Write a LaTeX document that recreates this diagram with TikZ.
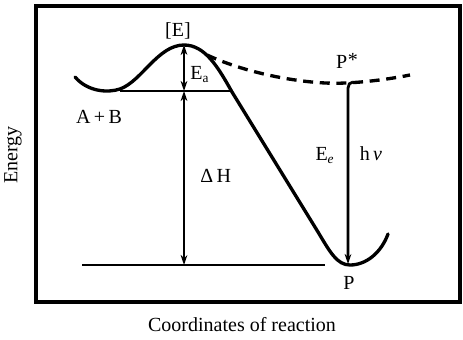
\documentclass[tikz,border=0pt]{standalone}
\usepackage{fontspec}
\setmainfont{Liberation Serif}
\usetikzlibrary{arrows.meta,positioning,calc}
\tikzset{
  frame/.style={line width=2.4pt},
  curve/.style={line width=2pt,line join=round,line cap=round},
  excited/.style={line width=2pt,dash pattern=on 6pt off 4pt},
  level/.style={line width=1.6pt},
  energy/.style={{Stealth[length=6pt,width=4pt]}-{Stealth[length=6pt,width=4pt]},line width=1.7pt},
  emit/.style={-{Stealth[length=6pt,width=4pt]},line width=1.7pt},
  lbl/.style={inner sep=1pt,font=\fontsize{12}{14}\selectfont}
}
\begin{document}
\begin{tikzpicture}[x=0.6pt,y=-0.6pt]
\useasboundingbox (0,0) rectangle (463,339);
\draw[frame] (36,6) rectangle (460,302);

% key points of the profile
\coordinate (TS) at (184,45);
\coordinate (R) at (184,91);
\coordinate (Pr) at (184,265);
\coordinate (Pstar) at (353,82);
\coordinate (Pmin) at (348,264);

% reaction profile
\draw[curve] (75,77) .. controls (88,92) and (108,93) .. (120,89)
  .. controls (142,81) and (158,45) .. (TS)
  .. controls (205,45) and (218,67) .. (232,92)
  -- (318,232)
  .. controls (330,252) and (337,265) .. (350,265)
  .. controls (366,265) and (381,253) .. (388,234);
\draw[excited] (207,55) .. controls (250,75) and (310,85) .. (345,83)
  .. controls (370,82) and (395,78) .. (410,75);

% levels
\draw[level] (120,91) -- (R) -- (231,91);
\draw[level] (82,265) -- (Pr) -- (325,265);

% energy arrows
\draw[energy] (TS) -- node[lbl,right=2pt,pos=0.64]{E\textsubscript{a}} (R);
\draw[energy] (R) -- node[lbl,right=8pt,pos=0.49]{Δ\,H} (Pr);
\draw[emit] (Pstar) to[out=180,in=90] ($(Pstar)+(-5,6)$) -- (Pmin);

% labels
\node[lbl] (E) at (178,31) {[E]};
\node[lbl] (AB) at (99,117) {A\,+\,B};
\node[lbl] (Ps) at (347,61) {P\kern0.5pt\raisebox{0.15ex}{*}};
\node[lbl] (Ee) at (325,156) {E\textsubscript{\textit{e}}};
\node[lbl] (hv) at (371,154) {h\,\textit{ν}};
\node[lbl] (P) at (349,283) {P};
\node[lbl,rotate=90] (energy) at (13,155) {Energy};
\node[lbl] (coord) at (242,325) {Coordinates of reaction};
\end{tikzpicture}
\end{document}
